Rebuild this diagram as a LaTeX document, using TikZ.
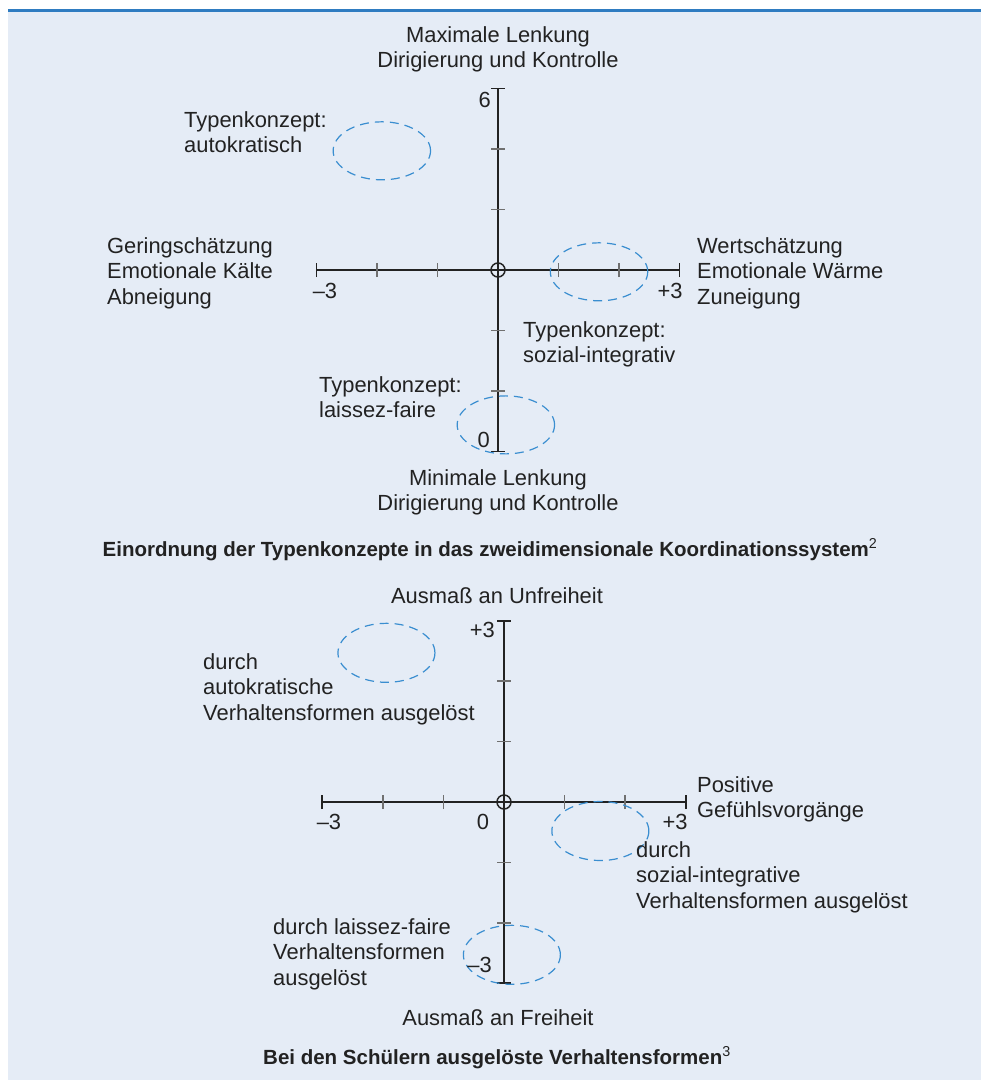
\documentclass[tikz,border=0pt]{standalone}
\usepackage{fontspec}
\setmainfont{Liberation Sans}
\usetikzlibrary{positioning}

\definecolor{bgblue}{HTML}{E5ECF6}
\definecolor{topblue}{HTML}{2F7CC1}
\definecolor{ringblue}{HTML}{3A8ED0}
\definecolor{tickgray}{HTML}{707070}
\definecolor{ink}{HTML}{222222}

\tikzset{
  txt/.style={font=\fontsize{21.9}{25.7}\selectfont, text=ink, inner sep=0pt, align=left},
  ctxt/.style={txt, align=center},
  capt/.style={font=\fontsize{20.5}{24}\selectfont\bfseries, text=ink, inner sep=0pt},
  axis/.style={line width=1.8pt, draw=ink},
  tck/.style={line width=1.5pt, draw=tickgray},
  endtck/.style={line width=1.5pt, draw=ink},
  typ/.style={draw=ringblue, line width=1.2pt, dash pattern=on 9pt off 6pt},
}

\begin{document}
\begin{tikzpicture}[x=1pt,y=-1pt]
\useasboundingbox (0,0) rectangle (981,1080);
\fill[bgblue] (8,11) rectangle (981,1080);
\draw[topblue, line width=3pt] (8,10) -- (981,10);

% upper system: Lenkung vs. Wertschaetzung
\begin{scope}[shift={(498,270)}, x=60.5pt, y=60.5pt]
\draw[axis] (-3,0) -- (3,0);
\draw[axis] (0,-3) -- (0,3);
\foreach \i in {-2,-1,1,2} {
  \draw[tck] (\i,0) ++(0,-7pt) -- ++(0,14pt);
  \draw[tck] (0,\i) ++(-7pt,0) -- ++(14pt,0);
}
\foreach \i in {-3,3} {
  \draw[endtck] (\i,0) ++(0,-7pt) -- ++(0,14pt);
  \draw[endtck] (0,\i) ++(-7pt,0) -- ++(14pt,0);
}
\draw[line width=1.5pt, ink] (0,0) circle (7pt);
\draw[typ] (-1.92,1.97) ellipse [x radius=48.7pt, y radius=29pt];
\draw[typ] (1.67,-0.03) ellipse [x radius=48.7pt, y radius=29pt];
\draw[typ] (0.13,-2.56) ellipse [x radius=48.7pt, y radius=29pt];
\end{scope}

% multi-line nodes: base = last line
\node[ctxt, anchor=base] (maxl) at (498,67.7) {Maximale Lenkung\\Dirigierung und Kontrolle};
\node[txt, anchor=base west] (auto) at (184,152.7) {Typenkonzept:\\autokratisch};
\node[txt, anchor=base west] (gering) at (107,304.4) {Geringschätzung\\Emotionale Kälte\\Abneigung};
\node[txt, anchor=base west] (wert) at (697,304.4) {Wertschätzung\\Emotionale Wärme\\Zuneigung};
\node[txt, anchor=base west] (sozial) at (523,362.7) {Typenkonzept:\\sozial-integrativ};
\node[txt, anchor=base west] (laissez) at (319,417.7) {Typenkonzept:\\laissez-faire};
\node[ctxt, anchor=base] (minl) at (498,510.7) {Minimale Lenkung\\Dirigierung und Kontrolle};
\node[txt, anchor=base east] (ysix) at (491,107) {6};
\node[txt, anchor=base east] (yzero) at (490,447) {0};
\node[txt, anchor=base] (xmin) at (325,298) {\textendash3};
\node[txt, anchor=base] (xmax) at (670,298) {+3};
\node[capt, anchor=base] (capone) at (490,556)
  {Einordnung der Typenkonzepte in das zweidimensionale Koordinationssystem\textsuperscript{\mdseries 2}};

% lower system: Unfreiheit vs. Gefuehlsvorgaenge
\begin{scope}[shift={(504,802)}, x=60.6pt, y=60.4pt]
\draw[axis] (-3,0) -- (3,0);
\draw[axis] (0,-3) -- (0,3);
\foreach \i in {-2,-1,1,2} {
  \draw[tck] (\i,0) ++(0,-7pt) -- ++(0,14pt);
  \draw[tck] (0,\i) ++(-7pt,0) -- ++(14pt,0);
}
\foreach \i in {-3,3} {
  \draw[endtck] (\i,0) ++(0,-7pt) -- ++(0,14pt);
  \draw[endtck] (0,\i) ++(-7pt,0) -- ++(14pt,0);
}
\draw[line width=1.5pt, ink] (0,0) circle (7pt);
\draw[typ] (-1.94,2.47) ellipse [x radius=48.5pt, y radius=29.5pt];
\draw[typ] (1.59,-0.48) ellipse [x radius=48.5pt, y radius=29.5pt];
\draw[typ] (0.13,-2.53) ellipse [x radius=48.5pt, y radius=29.5pt];
\end{scope}

\node[ctxt, anchor=base] (unfrei) at (497,603) {Ausmaß an Unfreiheit};
\node[txt, anchor=base west] (dauto) at (203,720.4) {durch\\autokratische\\Verhaltensformen ausgelöst};
\node[txt, anchor=base west] (posit) at (697,817.7) {Positive\\Gefühlsvorgänge};
\node[txt, anchor=base west] (dsozial) at (636,908.4) {durch\\sozial-integrative\\Verhaltensformen ausgelöst};
\node[txt, anchor=base west] (dlaissez) at (273,985.4) {durch laissez-faire\\Verhaltensformen\\ausgelöst};
\node[ctxt, anchor=base] (frei) at (498,1025) {Ausmaß an Freiheit};
\node[txt, anchor=base east] (ytop) at (495,637) {+3};
\node[txt, anchor=base east] (ybot) at (492,972) {\textendash3};
\node[txt, anchor=base] (xleft) at (329,829) {\textendash3};
\node[txt, anchor=base] (xnull) at (483,829) {0};
\node[txt, anchor=base] (xright) at (675,829) {+3};
\node[capt, anchor=base] (captwo) at (497,1064)
  {Bei den Schülern ausgelöste Verhaltensformen\textsuperscript{\mdseries 3}};
\end{tikzpicture}
\end{document}
